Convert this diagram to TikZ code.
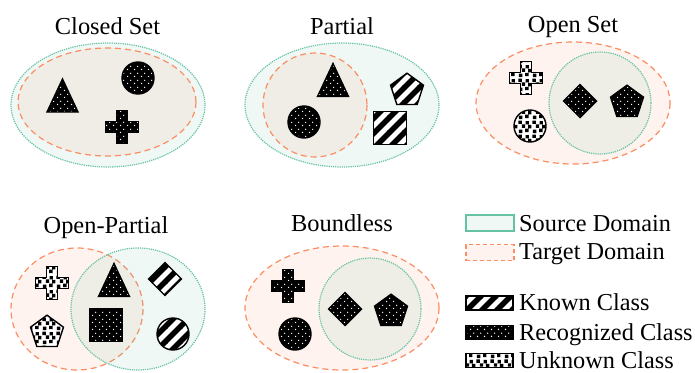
\documentclass[tikz,border=0pt]{standalone}
\usepackage{fontspec}
\setmainfont{Liberation Serif}
\usetikzlibrary{patterns}
\definecolor{srcgreen}{HTML}{66C2A5}
\definecolor{tgtorange}{HTML}{FC8D62}

% --- Riempimenti delle classi
\pgfdeclarepatternformonly{recdots}{\pgfqpoint{0pt}{0pt}}{\pgfqpoint{7pt}{7pt}}{\pgfqpoint{7pt}{7pt}}{%
  \pgfpathcircle{\pgfqpoint{1.75pt}{1.75pt}}{0.8pt}
  \pgfpathcircle{\pgfqpoint{5.25pt}{5.25pt}}{0.8pt}
  \pgfusepath{fill}}
\pgfdeclarepatternformonly{knownstripes}{\pgfqpoint{-1pt}{-1pt}}{\pgfqpoint{16pt}{16pt}}{\pgfqpoint{15pt}{15pt}}{%
  \pgfsetlinewidth{5.5pt}
  \pgfpathmoveto{\pgfqpoint{-1pt}{-1pt}}\pgfpathlineto{\pgfqpoint{16pt}{16pt}}
  \pgfpathmoveto{\pgfqpoint{-1pt}{14pt}}\pgfpathlineto{\pgfqpoint{1pt}{16pt}}
  \pgfpathmoveto{\pgfqpoint{14pt}{-1pt}}\pgfpathlineto{\pgfqpoint{16pt}{1pt}}
  \pgfusepath{stroke}}
\pgfdeclarepatternformonly{unkblocks}{\pgfqpoint{0pt}{0pt}}{\pgfqpoint{14pt}{14pt}}{\pgfqpoint{14pt}{14pt}}{%
  \pgfpathrectangle{\pgfqpoint{1pt}{1pt}}{\pgfqpoint{3.5pt}{3.5pt}}
  \pgfpathrectangle{\pgfqpoint{7.5pt}{2pt}}{\pgfqpoint{3.5pt}{3.5pt}}
  \pgfpathrectangle{\pgfqpoint{4pt}{6.5pt}}{\pgfqpoint{3.5pt}{3.5pt}}
  \pgfpathrectangle{\pgfqpoint{10.5pt}{6pt}}{\pgfqpoint{3.5pt}{3.5pt}}
  \pgfpathrectangle{\pgfqpoint{0.5pt}{10.5pt}}{\pgfqpoint{3.5pt}{3.5pt}}
  \pgfpathrectangle{\pgfqpoint{8pt}{10pt}}{\pgfqpoint{3.5pt}{3.5pt}}
  \pgfusepath{fill}}

\begin{document}
\begin{tikzpicture}[x=1pt,y=-1pt,
  srcdom/.style={draw=srcgreen, line width=1.2pt, densely dotted, fill=srcgreen, fill opacity=0.1},
  tgtdom/.style={draw=tgtorange, line width=1.2pt, dash pattern=on 6pt off 4pt, fill=tgtorange, fill opacity=0.1},
  known/.style={draw=black, line width=1.4pt, solid, preaction={fill=white}, pattern=knownstripes, pattern color=black},
  recog/.style={draw=black, line width=1.4pt, solid, preaction={fill=black}, pattern=recdots, pattern color=white},
  unknown/.style={draw=black, line width=1.4pt, solid, preaction={fill=white}, pattern=unkblocks, pattern color=black},
  title/.style={font=\fontsize{24.4}{29}\selectfont, anchor=base, inner sep=0pt},
  legtext/.style={font=\fontsize{24.3}{29}\selectfont, anchor=base west, inner sep=0pt},
  pics/tri/.style={code={\path[#1] (0,-16.5) -- (15.5,16.5) -- (-15.5,16.5) -- cycle;}},
  pics/ball/.style={code={\path[#1] (0,0) circle (16);}},
  pics/sq/.style={code={\path[#1] (-16.5,-16.5) rectangle (16.5,16.5);}},
  pics/dia/.style={code={\path[#1] (0,-16.5) -- (16.5,0) -- (0,16.5) -- (-16.5,0) -- cycle;}},
  pics/penta/.style={code={\path[#1, shift={(0,1.5)}] (-90:17.3) -- (-18:17.3) -- (54:17.3) -- (126:17.3) -- (198:17.3) -- cycle;}},
  pics/plus/.style={code={\path[#1] (-5.5,-16.5) -- (5.5,-16.5) -- (5.5,-5.5) -- (16.5,-5.5) -- (16.5,5.5)
      -- (5.5,5.5) -- (5.5,16.5) -- (-5.5,16.5) -- (-5.5,5.5) -- (-16.5,5.5) -- (-16.5,-5.5) -- (-5.5,-5.5) -- cycle;}},
]

\useasboundingbox (0,0) rectangle (695,372);
\fill[white] (0,0) rectangle (695,372);

% --- Closed Set
\node[title] (closedT) at (107.5,34) {Closed Set};
\draw[srcdom] (108,105) ellipse [x radius=97, y radius=62];
\draw[tgtdom] (107,102) ellipse [x radius=89, y radius=54];
\pic at (62.5,95.5) {tri=recog};
\pic at (138,78) {ball=recog};
\pic at (122,127) {plus=recog};

% --- Partial
\node[title] (partialT) at (342,34) {Partial};
\draw[srcdom] (342,105) ellipse [x radius=97, y radius=62];
\draw[tgtdom] (315,105) circle (52);
\pic at (333,80) {tri=recog};
\pic at (304,122) {ball=recog};
\pic at (407,89) {penta=known};
\pic at (390,128) {sq=known};

% --- Open Set
\node[title] (openT) at (573,32) {Open Set};
\draw[tgtdom] (573,103) ellipse [x radius=97, y radius=61];
\draw[srcdom] (600,103) circle (51);
\pic at (526,78) {plus=unknown};
\pic at (530,126) {ball=unknown};
\pic at (580,101) {dia=recog};
\pic at (627,101) {penta=recog};

% --- Open-Partial
\node[title] (openpartT) at (106,233) {Open-Partial};
\draw[tgtdom] (77,309) ellipse [x radius=66, y radius=61];
\draw[srcdom] (138,309) ellipse [x radius=67, y radius=61];
\pic at (52,283) {plus=unknown};
\pic at (47,331) {penta=unknown};
\pic at (114,280) {tri=recog};
\pic at (106,325) {sq=recog};
\pic at (165,279) {dia=known};
\pic at (173,334) {ball=known};

% --- Boundless
\node[title] (boundT) at (342,231) {Boundless};
\draw[tgtdom] (342,308) ellipse [x radius=97, y radius=62];
\draw[srcdom] (370,309) circle (51);
\pic at (288,286) {plus=recog};
\pic at (295,334) {ball=recog};
\pic at (345,309) {dia=recog};
\pic at (391,310) {penta=recog};

% --- Legenda
\node[srcdom, solid, line width=1.5pt, minimum width=48pt, minimum height=16pt, inner sep=0pt] (srcbox) at (490,223) {};
\node[tgtdom, dash pattern=on 4pt off 3pt, minimum width=48pt, minimum height=16pt, inner sep=0pt] (tgtbox) at (490,252.5) {};
\node[known, minimum width=47pt, minimum height=14pt, inner sep=0pt] (knownbox) at (489.5,303) {};
\node[recog, minimum width=47pt, minimum height=14pt, inner sep=0pt] (recbox) at (489.5,332.5) {};
\node[unknown, minimum width=47pt, minimum height=14pt, inner sep=0pt] (unkbox) at (489.5,360.5) {};
\node[legtext] (srctxt) at (519,231) {Source Domain};
\node[legtext] (tgttxt) at (519,259) {Target Domain};
\node[legtext] (knowntxt) at (519,310) {Known Class};
\node[legtext] (rectxt) at (519,340) {Recognized Class};
\node[legtext] (unktxt) at (519,368) {Unknown Class};

\end{tikzpicture}
\end{document}
